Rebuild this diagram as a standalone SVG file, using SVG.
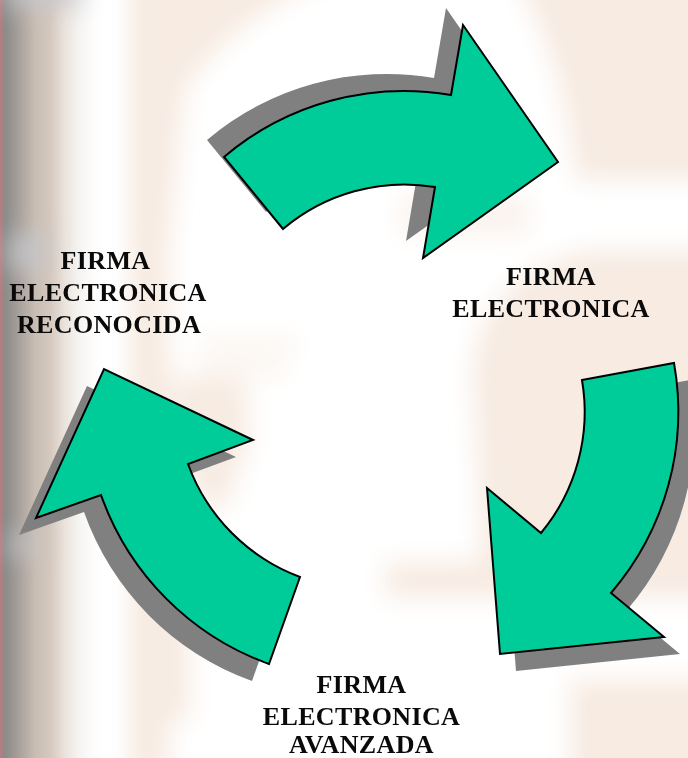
<svg xmlns="http://www.w3.org/2000/svg" width="688" height="758" viewBox="0 0 688 758">
<style>
.lbl{font-family:"Liberation Serif","Times New Roman",serif;font-weight:bold;font-size:26px;fill:#0a0a0a;text-anchor:middle;letter-spacing:.35px}
.sh{fill:#808080}
.ar{fill:#00cc99;stroke:#000;stroke-width:2;stroke-linejoin:miter}
.p{fill:#f7ebe2}
.g{fill:#c6c8cd}
</style>
<defs>
<filter id="b" x="-40%" y="-40%" width="180%" height="180%"><feGaussianBlur stdDeviation="12"/></filter>
<linearGradient id="left" gradientUnits="userSpaceOnUse" x1="0" x2="130" y1="0" y2="0">
<stop offset="0" stop-color="#bb7c82"/><stop offset=".015" stop-color="#a58284"/><stop offset=".04" stop-color="#8b8b89"/><stop offset=".15" stop-color="#a8a19c"/><stop offset=".27" stop-color="#c8bdb3"/><stop offset=".385" stop-color="#d5c8be"/><stop offset=".5" stop-color="#ebe3dc"/><stop offset=".615" stop-color="#f6f5f3"/><stop offset=".73" stop-color="#fdfdfd"/><stop offset=".8" stop-color="#fff" stop-opacity=".9"/><stop offset="1" stop-color="#fff" stop-opacity="0"/>
</linearGradient>
</defs>
<defs>
<path id="a1" d="M224,157 A278,278 0 0 1 451,95 L463,25 L558,162 L423,258 L435,187 A188,188 0 0 0 283,229 Z"/>
<path id="a2" d="M582,380 L674,363 A278,278 0 0 1 611,593 L664,637 L500,654 L487,488 L541,533 A190,190 0 0 0 582,380 Z"/>
<path id="a3" d="M300,577 L269,664 A278,278 0 0 1 101,495 L36,518 L104,369 L253,440 L188,464 A190,190 0 0 0 300,577 Z"/>
</defs>
<g id="background">
<rect width="688" height="758" fill="#fff"/>
<g filter="url(#b)">
<rect class="p" x="128" y="-30" width="42" height="820"/>
<path class="p" d="M170,-30H350Q240,10 185,90L170,240Z"/>
<path class="p" d="M170,378H245L250,440L225,510L195,500Z"/>
<path class="p" d="M170,600H190V720H170Z"/>
<path class="p" d="M200,335H300L280,380H200Z" opacity=".4"/>
<path class="p" d="M510,-30H720V180H575Q565,60 510,-30Z"/>
<path class="p" d="M472,370Q480,275 590,250H720V520H480Z"/>
<path class="p" d="M400,195H530V235H400Z" opacity=".6"/>
<rect class="p" x="385" y="562" width="110" height="36"/>
<rect class="p" x="480" y="480" width="240" height="118"/>
<rect class="p" x="570" y="680" width="150" height="110"/>
</g>
<rect width="130" height="758" fill="url(#left)"/>
<g filter="url(#b)" opacity=".8">
<rect class="g" x="5" y="-30" width="75" height="38"/>
<rect class="g" x="8" y="235" width="40" height="35"/>
<rect class="g" x="8" y="535" width="30" height="20"/>
</g>
</g>
<g id="connectors">
<use href="#a1" class="sh" transform="translate(-17,-17)"/>
<use href="#a1" class="ar"/>
<use href="#a2" class="sh" transform="translate(16,17)"/>
<use href="#a2" class="ar"/>
<use href="#a3" class="sh" transform="translate(-17,17)"/>
<use href="#a3" class="ar"/>
</g>
<g id="node-firma-reconocida">
<text class="lbl" x="105.500" y="269">FIRMA</text>
<text class="lbl" x="108" y="301">ELECTRONICA</text>
<text class="lbl" x="109" y="333">RECONOCIDA</text>
</g>
<g id="node-firma">
<text class="lbl" x="551" y="285">FIRMA</text>
<text class="lbl" x="551" y="317">ELECTRONICA</text>
</g>
<g id="node-firma-avanzada">
<text class="lbl" x="361.500" y="693">FIRMA</text>
<text class="lbl" x="361.500" y="725">ELECTRONICA</text>
<text class="lbl" x="361.500" y="752.500">AVANZADA</text>
</g>
</svg>
